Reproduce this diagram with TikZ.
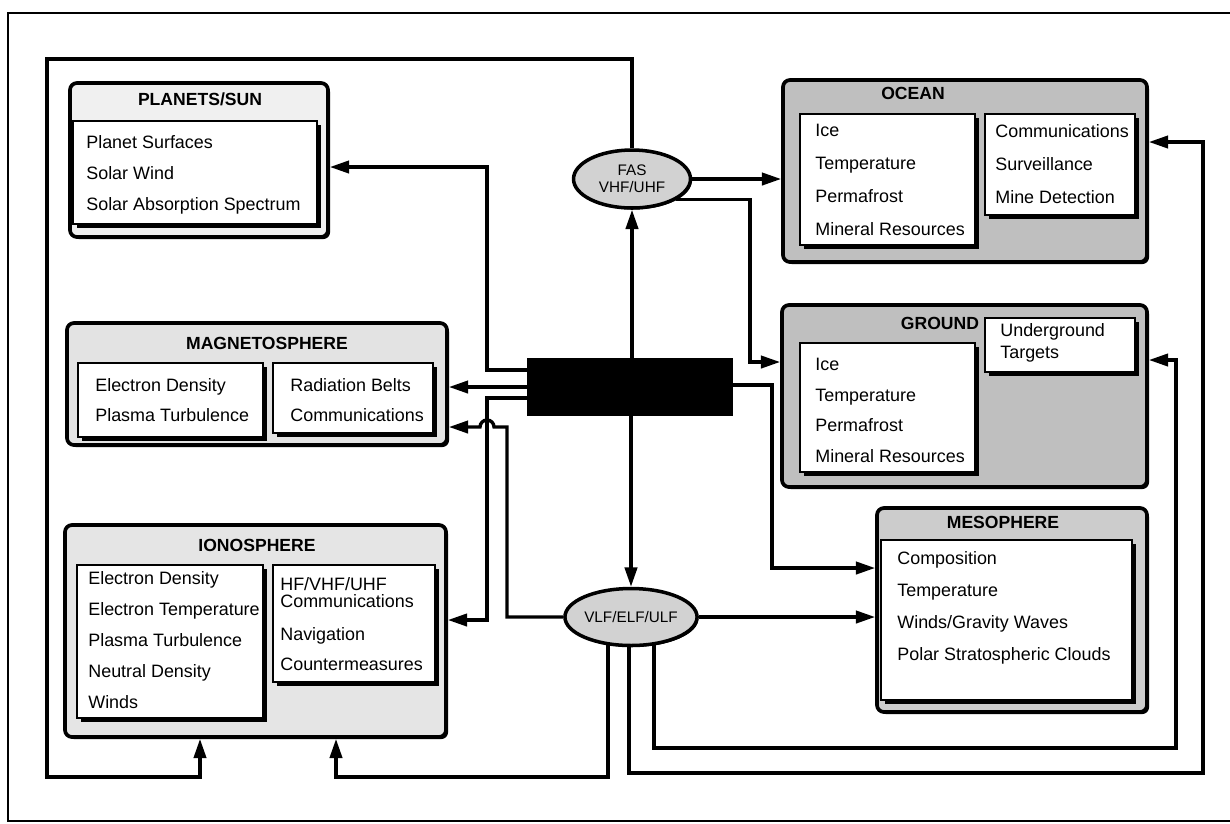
\documentclass[tikz,border=0pt]{standalone}
\usepackage{fontspec}
\setmainfont{Liberation Sans}
\usetikzlibrary{arrows.meta, shadows, fit, shapes}
\tikzset {
  bigbox/.style = {draw, line width=2.1pt, rounded corners=4pt, inner sep=0pt, drop shadow={opacity=1, fill=black, shadow xshift=1.2pt, shadow yshift=-1.2pt}},
  box/.style = {draw, line width=0.8pt, fill=white, inner sep=0pt, drop shadow={opacity=1, fill=black, shadow xshift=2.4pt, shadow yshift=-2.4pt}},
  head/.style = {inner sep=0pt, font=\bfseries\fontsize{10}{12}\selectfont},
  items/.style = {inner sep=0pt, anchor=north west, align=left, font=\fontsize{10.2}{#1}\selectfont},
  items/.default = 17.6pt,
  band/.style = {draw, ellipse, line width=2pt, fill=gray!35, inner sep=0pt, align=center, font=\fontsize{8.7}{9.5}\selectfont, drop shadow={opacity=1, fill=black, shadow xshift=0.8pt, shadow yshift=-0.8pt}},
  line/.style = {line width=1.9pt, -{Triangle[length=11pt, width=7pt]}},
  plainline/.style = {line width=0.8pt},
}
\pgfdeclarelayer{background}
\pgfsetlayers{background,main}

\begin{document}
\begin{tikzpicture}[x=0.02cm, y=-0.02cm]
    \useasboundingbox (0,0) rectangle (1230,823);
    \draw[plainline] (1240,13) -- (8,13) -- (8,821) -- (1240,821);

    % left column
    \node[bigbox, fill=gray!12, fit={(70,83) (328,237)}] (planets) {};
    \node[head] (planetshead) at (200,99) {PLANETS/SUN};
    \node[box, fit={(73,121) (317,224)}] (planetsin) {};
    \node[items] (planetstext) at (86,135) {Planet Surfaces\\Solar Wind\\Solar Absorption Spectrum};

    \node[bigbox, fill=gray!22, fit={(67,323) (447,445)}] (magneto) {};
    \node[head] (magnetohead) at (267,343) {MAGNETOSPHERE};
    \node[box, fit={(78,363) (263,437)}] (magnetoleft) {};
    \node[box, fit={(273,363) (433,433)}] (magnetoright) {};
    \node[items=17pt] (magnetotext) at (95,378) {Electron Density\\Plasma Turbulence};
    \node[items=17pt] (magnetouses) at (290,378) {Radiation Belts\\Communications};

    \node[bigbox, fill=gray!20, fit={(65,525) (446,737)}] (iono) {};
    \node[head] (ionohead) at (257,545) {IONOSPHERE};
    \node[box, fit={(77,565) (263,718)}] (ionoleft) {};
    \node[box, fit={(273,565) (435,682)}] (ionoright) {};
    \node[items] (ionotext) at (88,571) {Electron Density\\Electron Temperature\\Plasma Turbulence\\Neutral Density\\Winds};
    \node[items=9.8pt] (ionocomm) at (280,577) {HF/VHF/UHF\\Communications};
    \node[items=17pt] (ionouses) at (280,627) {Navigation\\Countermeasures};

    % right column
    \node[bigbox, fill=gray!50, fit={(783,80) (1147,262)}] (ocean) {};
    \node[head] (oceanhead) at (913,93) {OCEAN};
    \node[box, fit={(800,114) (975,245)}] (oceanleft) {};
    \node[box, fit={(985,114) (1135,215)}] (oceanright) {};
    \node[items=18.7pt] (oceantext) at (815,124) {Ice\\Temperature\\Permafrost\\Mineral Resources};
    \node[items=18.7pt] (oceanuses) at (995,124) {Communications\\Surveillance\\Mine Detection};

    \node[bigbox, fill=gray!50, fit={(782,305) (1147,487)}] (ground) {};
    \node[head] (groundhead) at (940,323) {GROUND};
    \node[box, fit={(800,343) (975,472)}] (groundleft) {};
    \node[box, fit={(985,318) (1135,372)}] (groundright) {};
    \node[items=17.4pt] (groundtext) at (815,358) {Ice\\Temperature\\Permafrost\\Mineral Resources};
    \node[items=12.5pt] (grounduses) at (1000,323) {Underground\\Targets};

    \node[bigbox, fill=gray!40, fit={(877,508) (1147,712)}] (meso) {};
    \node[head] (mesohead) at (1003,522) {MESOPHERE};
    \node[box, fit={(881,540) (1132,700)}] (mesoin) {};
    \node[items=18.3pt] (mesotext) at (897,551) {Composition\\Temperature\\Winds/Gravity Waves\\Polar Stratospheric Clouds};

    % source and bands
    \node[draw, fill=black, inner sep=0pt, fit={(527,358) (732,415)}] (block) {};
    \node[band, minimum width=2.34cm, minimum height=1.16cm] (fas) at (632,179) {FAS\\VHF/UHF};
    \node[band, minimum width=2.5cm, minimum height=1.14cm] (vlf) at (631,617) {VLF/ELF/ULF};

    \begin{pgfonlayer}{background}
    \draw[line] (block.north -| fas.south) -- (fas.south);
    \draw[line] (block.south -| vlf.north) -- (vlf.north);
    \draw[line] (block.west |- 0,370) -| (487,167) -- (planets.east |- 0,167);
    \draw[line] (block.west |- 0,387) -- (magneto.east |- 0,387);
    \draw[line] (block.west |- 0,398) -| (487,620) -- (iono.east |- 0,620);
    \draw[line] (vlf.west) -| (507,427) -- (494,427) arc[start angle=0, end angle=-180, radius=7] -- (magneto.east |- 0,427);
    \draw[line] (block.east |- 0,385) -| (772,568) -- (meso.west |- 0,568);
    \draw[line] (vlf.east) -- (meso.west |- vlf.east);
    \draw[line] (fas.east) -- (ocean.west |- fas.east);
    \draw[line] (fas.-25) -| (750,362) -- (ground.west |- 0,362);
    \draw[line] (fas.north) |- (47,59) |- (200,777) -- (iono.south -| 200,0);
    \draw[line] (vlf.center -| 608,0) |- (336,777) -- (iono.south -| 336,0);
    \draw[line] (vlf.center -| 629,0) |- (1203,773) |- (ocean.east |- 0,142);
    \draw[line] (vlf.center -| 654,0) |- (1176,748) |- (ground.east |- 0,360);
    \end{pgfonlayer}

\end{tikzpicture}
\end{document}
